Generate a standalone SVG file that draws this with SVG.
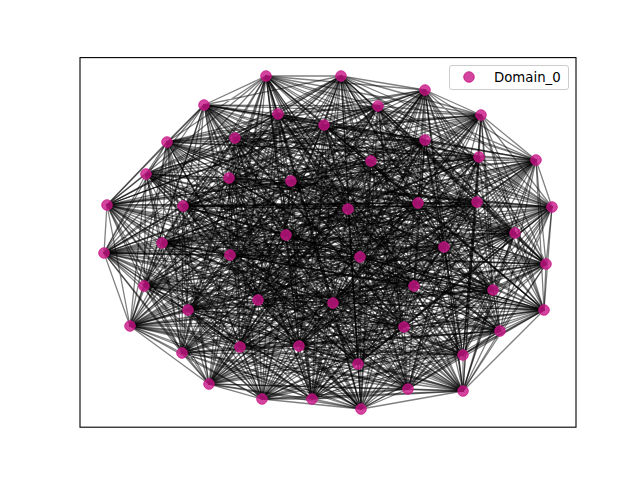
<svg xmlns="http://www.w3.org/2000/svg" width="640" height="480" viewBox="0 0 640 480">
<style>
.e{fill:none;stroke:#000;stroke-opacity:0.5;stroke-width:1.3;stroke-linejoin:round}
.n circle{fill:#c71585;fill-opacity:0.8;stroke:#c71585;stroke-opacity:0.8;stroke-width:1}
.lg{font-family:"DejaVu Sans",Verdana,sans-serif;font-size:13.3px;fill:#000}
</style>
<rect x="0" y="0" width="640" height="480" fill="#fff"/>
<g id="edges">
<path class="e" d="M266 76L341 76L425 90L481 115L536 160L552 207L546 264L544 310L500 331L463 391L408 389L361 409L312 399L262 399L209 384L182 353L130 326L144 286L104 253L107 205L146 174L167 142L204 105L278 114L324 125L378 106L235 138L425 140L479 157L371 161L229 178L291 181L183 206L348 209L418 203L477 202L515 233L286 235L162 243L444 247L230 255L360 257L414 286L493 290L258 300L333 303L188 310L404 327L240 347L299 346L463 355L358 364Z"/>
<path class="e" d="M266 76L481 115L546 264L463 391L312 399L182 353L104 253L167 142L324 125L425 140L229 178L348 209L515 233L444 247L414 286L333 303L240 347L358 364L425 90L552 207L500 331L361 409L209 384L144 286L146 174L278 114L235 138L371 161L183 206L477 202L162 243L360 257L258 300L404 327L463 355L341 76L536 160L544 310L408 389L262 399L130 326L107 205L204 105L378 106L479 157L291 181L418 203L286 235L230 255L493 290L188 310L299 346Z"/>
<path class="e" d="M266 76L552 207L408 389L182 353L146 174L378 106L229 178L477 202L230 255L333 303L463 355L481 115L500 331L262 399L104 253L278 114L479 157L348 209L162 243L493 290L240 347L341 76L546 264L361 409L130 326L167 142L235 138L291 181L515 233L360 257L188 310L358 364L536 160L463 391L209 384L107 205L324 125L371 161L418 203L444 247L258 300L299 346L425 90L544 310L312 399L144 286L204 105L425 140L183 206L286 235L414 286L404 327Z"/>
<path class="e" d="M266 76L544 310L209 384L167 142L479 157L477 202L414 286L299 346L536 160L361 409L104 253L378 106L183 206L444 247L188 310L341 76L500 331L182 353L204 105L371 161L515 233L493 290L463 355L552 207L312 399L107 205L235 138L348 209L230 255L404 327L425 90L463 391L130 326L278 114L229 178L286 235L258 300L358 364L546 264L262 399L146 174L425 140L418 203L360 257L240 347L481 115L408 389L144 286L324 125L291 181L162 243L333 303Z"/>
<path class="e" d="M266 76L463 391L104 253L425 140L515 233L333 303L425 90L361 409L146 174L371 161L162 243L404 327L536 160L262 399L204 105L291 181L230 255L299 346L546 264L182 353L324 125L348 209L414 286L358 364L500 331L144 286L235 138L477 202L258 300L341 76L408 389L107 205L479 157L286 235L188 310L481 115L312 399L167 142L229 178L444 247L240 347L552 207L209 384L278 114L183 206L360 257L463 355L544 310L130 326L378 106L418 203L493 290Z"/>
<path class="e" d="M266 76L361 409L204 105L348 209L258 300L481 115L209 384L378 106L515 233L404 327L546 264L144 286L479 157L444 247L463 355L463 391L146 174L291 181L414 286L341 76L312 399L278 114L418 203L333 303L536 160L182 353L235 138L286 235L240 347L544 310L104 253L371 161L230 255L358 364L408 389L167 142L183 206L493 290L425 90L262 399L324 125L477 202L188 310L552 207L130 326L425 140L162 243L299 346L500 331L107 205L229 178L360 257Z"/>
<path class="e" d="M266 76L182 353L229 178L333 303L500 331L278 114L162 243L341 76L130 326L291 181L188 310L463 391L324 125L444 247L425 90L144 286L183 206L404 327L408 389L378 106L230 255L481 115L104 253L348 209L240 347L361 409L235 138L360 257L536 160L107 205L418 203L299 346L312 399L425 140L414 286L552 207L146 174L477 202L463 355L262 399L479 157L493 290L546 264L167 142L515 233L358 364L209 384L371 161L258 300L544 310L204 105L286 235Z"/>
<path class="e" d="M266 76L144 286L418 203L358 364L130 326L348 209L463 355L182 353L183 206L299 346L209 384L291 181L240 347L262 399L229 178L404 327L312 399L371 161L188 310L361 409L479 157L333 303L408 389L425 140L258 300L463 391L235 138L493 290L500 331L378 106L414 286L544 310L324 125L360 257L546 264L278 114L230 255L552 207L204 105L444 247L536 160L167 142L162 243L481 115L146 174L286 235L425 90L107 205L515 233L341 76L104 253L477 202Z"/>
<path class="e" d="M266 76L107 205L162 243L552 207L324 125L493 290L408 389L371 161L240 347L182 353L418 203L341 76L146 174L444 247L546 264L378 106L258 300L361 409L229 178L299 346L130 326L477 202L425 90L167 142L230 255L544 310L235 138L333 303L312 399L291 181L463 355L144 286L515 233L481 115L204 105L360 257L500 331L425 140L188 310L262 399L183 206L358 364L104 253L286 235L536 160L278 114L414 286L463 391L479 157L404 327L209 384L348 209Z"/>
<path class="e" d="M266 76L167 142L414 286L361 409L183 206L341 76L204 105L493 290L312 399L348 209L425 90L278 114L258 300L262 399L418 203L481 115L324 125L333 303L209 384L477 202L536 160L378 106L188 310L182 353L515 233L552 207L235 138L404 327L130 326L286 235L546 264L425 140L240 347L144 286L162 243L544 310L479 157L299 346L104 253L444 247L500 331L371 161L463 355L107 205L230 255L463 391L229 178L358 364L146 174L360 257L408 389L291 181Z"/>
<path class="e" d="M266 76L278 114L188 310L144 286L230 255L361 409L418 203L552 207L479 157L358 364L204 105L333 303L130 326L444 247L408 389L348 209L536 160L425 140L463 355L167 142L258 300L182 353L162 243L463 391L183 206L481 115L235 138L299 346L146 174L493 290L209 384L286 235L500 331L291 181L425 90L378 106L240 347L107 205L414 286L262 399L515 233L544 310L229 178L341 76L324 125L404 327L104 253L360 257L312 399L477 202L546 264L371 161Z"/>
<path class="e" d="M266 76L378 106L463 355L278 114L240 347L167 142L188 310L107 205L258 300L144 286L414 286L182 353L230 255L262 399L162 243L361 409L515 233L463 391L418 203L544 310L183 206L552 207L229 178L481 115L479 157L341 76L235 138L358 364L324 125L299 346L204 105L404 327L146 174L333 303L104 253L493 290L130 326L360 257L209 384L444 247L312 399L286 235L408 389L477 202L500 331L348 209L546 264L291 181L536 160L371 161L425 90L425 140Z"/>
<path class="e" d="M266 76L425 90L536 160L546 264L500 331L408 389L312 399L209 384L130 326L104 253L146 174L204 105L324 125L235 138L479 157L229 178L183 206L418 203L515 233L162 243L230 255L414 286L258 300L188 310L240 347L463 355Z"/>
<path class="e" d="M341 76L481 115L552 207L544 310L463 391L361 409L262 399L182 353L144 286L107 205L167 142L278 114L378 106L425 140L371 161L291 181L348 209L477 202L286 235L444 247L360 257L493 290L333 303L404 327L299 346L358 364Z"/>
<path class="e" d="M266 76L546 264L312 399L104 253L324 125L229 178L515 233L414 286L240 347L425 90L500 331L209 384L146 174L235 138L183 206L162 243L258 300L463 355L536 160L408 389L130 326L204 105L479 157L418 203L230 255L188 310Z"/>
<path class="e" d="M341 76L544 310L262 399L107 205L378 106L291 181L286 235L493 290L299 346L481 115L463 391L182 353L167 142L425 140L348 209L444 247L333 303L358 364L552 207L361 409L144 286L278 114L371 161L477 202L360 257L404 327Z"/>
<path class="e" d="M266 76L408 389L146 174L229 178L230 255L463 355L500 331L104 253L479 157L162 243L240 347L546 264L130 326L235 138L515 233L188 310L536 160L209 384L324 125L418 203L258 300L425 90L312 399L204 105L183 206L414 286Z"/>
<path class="e" d="M341 76L361 409L167 142L291 181L360 257L358 364L463 391L107 205L371 161L444 247L299 346L544 310L144 286L425 140L286 235L404 327L552 207L182 353L378 106L477 202L333 303L481 115L262 399L278 114L348 209L493 290Z"/>
<path class="e" d="M266 76L209 384L479 157L414 286L536 160L104 253L183 206L188 310L500 331L204 105L515 233L463 355L312 399L235 138L230 255L425 90L130 326L229 178L258 300L546 264L146 174L418 203L240 347L408 389L324 125L162 243Z"/>
<path class="e" d="M341 76L182 353L371 161L493 290L552 207L107 205L348 209L404 327L463 391L278 114L286 235L358 364L262 399L425 140L360 257L481 115L144 286L291 181L333 303L544 310L167 142L477 202L299 346L361 409L378 106L444 247Z"/>
<path class="e" d="M266 76L104 253L515 233L425 90L146 174L162 243L536 160L204 105L230 255L546 264L324 125L414 286L500 331L235 138L258 300L408 389L479 157L188 310L312 399L229 178L240 347L209 384L183 206L463 355L130 326L418 203Z"/>
<path class="e" d="M341 76L107 205L286 235L481 115L167 142L444 247L552 207L278 114L360 257L544 310L378 106L493 290L463 391L425 140L333 303L361 409L371 161L404 327L262 399L291 181L299 346L182 353L348 209L358 364L144 286L477 202Z"/>
<path class="e" d="M266 76L204 105L258 300L209 384L515 233L546 264L479 157L463 355L146 174L414 286L312 399L418 203L536 160L235 138L240 347L104 253L230 255L408 389L183 206L425 90L324 125L188 310L130 326L162 243L500 331L229 178Z"/>
<path class="e" d="M341 76L278 114L333 303L182 353L286 235L544 310L371 161L358 364L167 142L493 290L262 399L477 202L552 207L425 140L299 346L107 205L360 257L361 409L348 209L481 115L378 106L404 327L144 286L444 247L463 391L291 181Z"/>
<path class="e" d="M266 76L536 160L500 331L312 399L130 326L146 174L324 125L479 157L183 206L515 233L230 255L258 300L240 347Z"/>
<path class="e" d="M341 76L552 207L463 391L262 399L144 286L167 142L378 106L371 161L348 209L286 235L360 257L333 303L299 346Z"/>
<path class="e" d="M425 90L546 264L408 389L209 384L104 253L204 105L235 138L229 178L418 203L162 243L414 286L188 310L463 355Z"/>
<path class="e" d="M481 115L544 310L361 409L182 353L107 205L278 114L425 140L291 181L477 202L444 247L493 290L404 327L358 364Z"/>
<path class="e" d="M266 76L312 399L324 125L515 233L240 347L500 331L146 174L183 206L258 300L536 160L130 326L479 157L230 255Z"/>
<path class="e" d="M341 76L262 399L378 106L286 235L299 346L463 391L167 142L348 209L333 303L552 207L144 286L371 161L360 257Z"/>
<path class="e" d="M425 90L209 384L235 138L162 243L463 355L408 389L204 105L418 203L188 310L546 264L104 253L229 178L414 286Z"/>
<path class="e" d="M481 115L182 353L425 140L444 247L358 364L361 409L278 114L477 202L404 327L544 310L107 205L291 181L493 290Z"/>
</g>
<g class="n">
<g id="n0"><circle cx="266" cy="76" r="5.3"/></g>
<g id="n1"><circle cx="341" cy="76" r="5.3"/></g>
<g id="n2"><circle cx="425" cy="90" r="5.3"/></g>
<g id="n3"><circle cx="481" cy="115" r="5.3"/></g>
<g id="n4"><circle cx="536" cy="160" r="5.3"/></g>
<g id="n5"><circle cx="552" cy="207" r="5.3"/></g>
<g id="n6"><circle cx="546" cy="264" r="5.3"/></g>
<g id="n7"><circle cx="544" cy="310" r="5.3"/></g>
<g id="n8"><circle cx="500" cy="331" r="5.3"/></g>
<g id="n9"><circle cx="463" cy="391" r="5.3"/></g>
<g id="n10"><circle cx="408" cy="389" r="5.3"/></g>
<g id="n11"><circle cx="361" cy="409" r="5.3"/></g>
<g id="n12"><circle cx="312" cy="399" r="5.3"/></g>
<g id="n13"><circle cx="262" cy="399" r="5.3"/></g>
<g id="n14"><circle cx="209" cy="384" r="5.3"/></g>
<g id="n15"><circle cx="182" cy="353" r="5.3"/></g>
<g id="n16"><circle cx="130" cy="326" r="5.3"/></g>
<g id="n17"><circle cx="144" cy="286" r="5.3"/></g>
<g id="n18"><circle cx="104" cy="253" r="5.3"/></g>
<g id="n19"><circle cx="107" cy="205" r="5.3"/></g>
<g id="n20"><circle cx="146" cy="174" r="5.3"/></g>
<g id="n21"><circle cx="167" cy="142" r="5.3"/></g>
<g id="n22"><circle cx="204" cy="105" r="5.3"/></g>
<g id="n23"><circle cx="278" cy="114" r="5.3"/></g>
<g id="n24"><circle cx="324" cy="125" r="5.3"/></g>
<g id="n25"><circle cx="378" cy="106" r="5.3"/></g>
<g id="n26"><circle cx="235" cy="138" r="5.3"/></g>
<g id="n27"><circle cx="425" cy="140" r="5.3"/></g>
<g id="n28"><circle cx="479" cy="157" r="5.3"/></g>
<g id="n29"><circle cx="371" cy="161" r="5.3"/></g>
<g id="n30"><circle cx="229" cy="178" r="5.3"/></g>
<g id="n31"><circle cx="291" cy="181" r="5.3"/></g>
<g id="n32"><circle cx="183" cy="206" r="5.3"/></g>
<g id="n33"><circle cx="348" cy="209" r="5.3"/></g>
<g id="n34"><circle cx="418" cy="203" r="5.3"/></g>
<g id="n35"><circle cx="477" cy="202" r="5.3"/></g>
<g id="n36"><circle cx="515" cy="233" r="5.3"/></g>
<g id="n37"><circle cx="286" cy="235" r="5.3"/></g>
<g id="n38"><circle cx="162" cy="243" r="5.3"/></g>
<g id="n39"><circle cx="444" cy="247" r="5.3"/></g>
<g id="n40"><circle cx="230" cy="255" r="5.3"/></g>
<g id="n41"><circle cx="360" cy="257" r="5.3"/></g>
<g id="n42"><circle cx="414" cy="286" r="5.3"/></g>
<g id="n43"><circle cx="493" cy="290" r="5.3"/></g>
<g id="n44"><circle cx="258" cy="300" r="5.3"/></g>
<g id="n45"><circle cx="333" cy="303" r="5.3"/></g>
<g id="n46"><circle cx="188" cy="310" r="5.3"/></g>
<g id="n47"><circle cx="404" cy="327" r="5.3"/></g>
<g id="n48"><circle cx="240" cy="347" r="5.3"/></g>
<g id="n49"><circle cx="299" cy="346" r="5.3"/></g>
<g id="n50"><circle cx="463" cy="355" r="5.3"/></g>
<g id="n51"><circle cx="358" cy="364" r="5.3"/></g>
</g>
<rect x="80" y="57.6" width="496" height="369.6" fill="none" stroke="#000" stroke-width="1.1"/>
<g id="legend">
<rect x="449.5" y="65.5" width="119" height="24" rx="2.5" fill="#fff" fill-opacity="0.8" stroke="#ccc" stroke-width="1"/>
<g class="n"><circle cx="469" cy="77" r="5.3"/></g>
<text class="lg" x="494" y="81.8">Domain_0</text>
</g>
</svg>
